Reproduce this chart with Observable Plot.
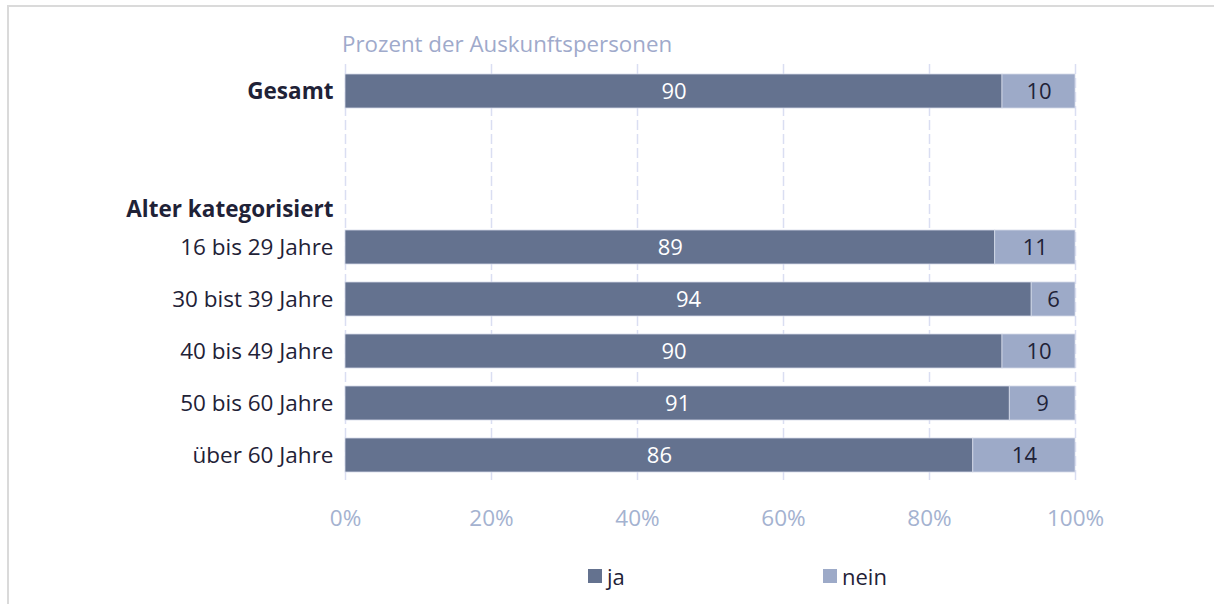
<!DOCTYPE html>
<html><head><meta charset="utf-8">
<script src="https://cdn.jsdelivr.net/npm/d3@7"></script>
<script src="https://cdn.jsdelivr.net/npm/@observablehq/plot@0.6"></script>
<style>
body{margin:0;background:#fff;font-family:"Open Sans",sans-serif;overflow:hidden}
#wrap{position:relative;width:1214px;height:604px;overflow:hidden}
#frame{position:absolute;left:7px;top:5px;width:1240px;height:640px;border:2px solid #dadada;box-sizing:border-box}
#title{position:absolute;left:342px;top:28px;font-size:22.3px;color:#9faacb;white-space:nowrap}
#chart{position:absolute;left:0;top:0}
.lg{position:absolute;top:561px;font-size:22px;color:#1f2237;display:flex;align-items:center}
.lg span.sw{display:inline-block;width:14px;height:14px;margin-right:5px}
</style></head>
<body>
<div id="wrap">
<div id="frame"></div>
<div id="chart"></div>
<div id="title">Prozent der Auskunftspersonen</div>
<div class="lg" style="left:588px"><span class="sw" style="background:#64728f"></span>ja</div>
<div class="lg" style="left:823px"><span class="sw" style="background:#9daac8"></span>nein</div>
</div>
<script>
const rows = ["Gesamt", " ", "Alter kategorisiert", "16 bis 29 Jahre", "30 bist 39 Jahre", "40 bis 49 Jahre", "50 bis 60 Jahre", "über 60 Jahre"];
const headers = ["Gesamt", "Alter kategorisiert"];
const barCategories = ["Gesamt", "16 bis 29 Jahre", "30 bist 39 Jahre", "40 bis 49 Jahre", "50 bis 60 Jahre", "über 60 Jahre"];
const series = ["ja", "nein"];
const ja = [90, 89, 94, 90, 91, 86];
const nein = [10, 11, 6, 10, 9, 14];
const xTicks = [0, 20, 40, 60, 80, 100];
const colors = ["#64728f", "#9daac8"];

const data = [];
barCategories.forEach((c, i) => {
  data.push({cat: c, series: "ja", value: ja[i]});
  data.push({cat: c, series: "nein", value: nein[i]});
});

const labelColor = "#1f2237";
const fsLabel = 22.5;
const fsValue = 22;
const fsTick = 22.5;
const regular = rows.filter(r => r.trim() && !headers.includes(r));
const headersWithBars = headers.filter(h => barCategories.includes(h));
const headersNoBars = headers.filter(h => !barCategories.includes(h));

const chart = Plot.plot({
  width: 1214,
  height: 604,
  marginLeft: 345,
  marginRight: 139,
  marginTop: 64,
  marginBottom: 122,
  style: {fontFamily: "'Open Sans', sans-serif", background: "transparent"},
  x: {domain: [0, 100], axis: null},
  y: {domain: rows, axis: null, paddingInner: 0.35, paddingOuter: 0.175},
  color: {domain: series, range: colors},
  marks: [
    Plot.gridX(xTicks, {stroke: "#dadef2", strokeOpacity: 1, strokeWidth: 1.5, strokeDasharray: "10,4"}),
    Plot.barX(data, Plot.stackX({x: "value", y: "cat", z: "series", fill: "series", order: series, stroke: "#d4dae8", strokeWidth: 0.8})),
    Plot.text(data, Plot.stackX({x: "value", y: "cat", z: "series", order: series, text: d => d.series === "ja" ? String(d.value) : "", fill: "white", fontSize: fsValue})),
    Plot.text(data, Plot.stackX({x: "value", y: "cat", z: "series", order: series, text: d => d.series === "nein" ? String(d.value) : "", fill: labelColor, fontSize: fsValue})),
    Plot.text(regular, {y: d => d, text: d => d, frameAnchor: "left", textAnchor: "end", dx: -12, fill: labelColor, fontSize: fsLabel}),
    Plot.text(headersWithBars, {y: d => d, text: d => d, frameAnchor: "left", textAnchor: "end", dx: -12, fill: labelColor, fontSize: fsLabel, fontWeight: "bold"}),
    Plot.text(headersNoBars, {y: d => d, text: d => d, frameAnchor: "left", textAnchor: "end", dx: -12, dy: 14, fill: labelColor, fontSize: fsLabel, fontWeight: "bold"}),
    Plot.text(xTicks, {x: d => d, text: d => d + "%", frameAnchor: "bottom", dy: 43, fill: "#a4b2d0", fontSize: fsTick})
  ]
});
document.getElementById("chart").appendChild(chart);
</script>
</body></html>
